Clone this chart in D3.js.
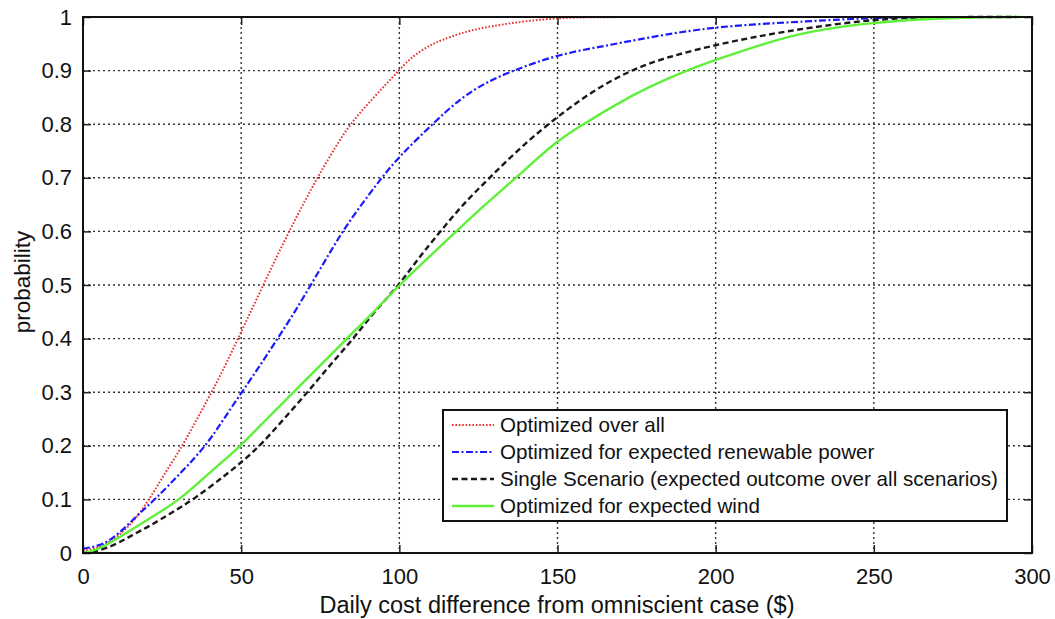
<!DOCTYPE html>
<html><head><meta charset="utf-8">
<script src="https://cdn.jsdelivr.net/npm/d3@7"></script>
<style>body{margin:0;background:#fff;} svg{display:block;} text{font-family:"Liberation Sans",Arial,sans-serif;}</style>
</head><body>
<svg id="c" width="1055" height="619"></svg>
<script>
const xTicks = [0,50,100,150,200,250,300];
const yTicks = [0,0.1,0.2,0.3,0.4,0.5,0.6,0.7,0.8,0.9,1];
const seriesNames = ["Optimized over all","Optimized for expected renewable power","Single Scenario (expected outcome over all scenarios)","Optimized for expected wind"];

const redX = [0,4,8.5,15,21,26,31.5,36,40.7,45,49,53,57,61,65.2,69.5,74.1,79,84.3,91.9,99.8,103,106.5,110,113,119.4,126,139,150,160,200,250,295];
const redY = [0.005,0.008,0.02,0.05,0.1,0.15,0.2,0.25,0.3,0.35,0.4,0.45,0.5,0.55,0.6,0.65,0.7,0.75,0.8,0.85,0.9,0.92,0.936,0.948,0.956,0.97,0.98,0.992,0.998,1,1,1,1];

const blueX = [0,5,9,13.8,18,22.8,31,38.9,44.5,50.2,56,61.5,67,72,77,82,88,94.4,100,110.4,119.4,128,136,150,165,178,200,230,250,270,295];
const blueY = [0.008,0.013,0.025,0.05,0.075,0.1,0.15,0.2,0.25,0.3,0.35,0.4,0.45,0.5,0.55,0.6,0.65,0.7,0.74,0.8,0.849,0.88,0.9,0.93,0.946,0.961,0.983,0.992,0.999,1,1];

const blackX = [0,3,7,11.7,16,21,28,35,45,50,56,63.5,71,78,85.5,92,100,106,113,120,128.5,138,148,160,172.6,185,200,215,229.6,250,268,295];
const blackY = [0,0.002,0.008,0.02,0.035,0.05,0.075,0.1,0.145,0.169,0.2,0.25,0.3,0.35,0.4,0.45,0.5,0.55,0.6,0.65,0.7,0.755,0.805,0.858,0.9,0.926,0.948,0.966,0.98,0.996,1,1];

const greenX = [0,4,9,17,24,30.7,40,50,58,66.6,75,83.4,92,100,109,118,127,137,150,159.6,175,190.7,200,215,229.6,250,268,285,296];
const greenY = [0,0.005,0.02,0.05,0.075,0.1,0.15,0.2,0.25,0.3,0.35,0.4,0.45,0.5,0.55,0.6,0.65,0.7,0.771,0.805,0.86,0.9,0.92,0.95,0.974,0.99,0.997,1,1];

const series = [
  {name:seriesNames[0], xs:redX, ys:redY, color:"#e8312f", dash:"1.6,1.8", w:2},
  {name:seriesNames[1], xs:blueX, ys:blueY, color:"#1a1aff", dash:"7,2.5,2,2.5", w:2.2},
  {name:seriesNames[2], xs:blackX, ys:blackY, color:"#1a1a1a", dash:"6,3.5", w:2.4},
  {name:seriesNames[3], xs:greenX, ys:greenY, color:"#5ff03a", dash:null, w:2.4}
];

const L=83, R=1032, T=17, B=553;
const svg = d3.select("#c");
const x = d3.scaleLinear().domain([0,300]).range([L,R]);
const y = d3.scaleLinear().domain([0,1]).range([B,T]);

// grid
const g = svg.append("g");
g.selectAll(".gx").data(xTicks.slice(1,-1)).enter().append("line")
 .attr("x1",d=>x(d)).attr("x2",d=>x(d)).attr("y1",T).attr("y2",B)
 .attr("stroke","#333").attr("stroke-width",1.4).attr("stroke-dasharray","2,3");
g.selectAll(".gy").data(yTicks.slice(1,-1)).enter().append("line")
 .attr("y1",d=>y(d)).attr("y2",d=>y(d)).attr("x1",L).attr("x2",R)
 .attr("stroke","#333").attr("stroke-width",1.4).attr("stroke-dasharray","2,3");

// axes
const fs = 22;
const xa = svg.append("g").attr("transform",`translate(0,${B})`)
  .call(d3.axisBottom(x).tickValues(xTicks).tickFormat(d3.format("d")).tickSize(-8).tickPadding(15));
const ya = svg.append("g").attr("transform",`translate(${L},0)`)
  .call(d3.axisLeft(y).tickValues(yTicks).tickFormat(d=>d===0?"0":d===1?"1":d3.format(".1f")(d)).tickSize(-8).tickPadding(11));
const xa2 = svg.append("g").attr("transform",`translate(0,${T})`)
  .call(d3.axisTop(x).tickValues(xTicks).tickSize(-8).tickFormat(""));
const ya2 = svg.append("g").attr("transform",`translate(${R},0)`)
  .call(d3.axisRight(y).tickValues(yTicks).tickSize(-8).tickFormat(""));
[xa,ya,xa2,ya2].forEach(a=>{
  a.select(".domain").remove();
  a.selectAll(".tick line").attr("stroke","#222").attr("stroke-width",1.5);
  a.selectAll("text").attr("font-size",fs).attr("fill","#111").attr("font-family","'Liberation Sans',Arial,sans-serif");
});

// lines
const line = d3.line().x(d=>x(d[0])).y(d=>y(d[1])).curve(d3.curveBasis);
series.forEach(s=>{
  const pts = s.xs.map((v,i)=>[v,s.ys[i]]);
  svg.append("path").datum(pts).attr("d",line).attr("fill","none")
   .attr("stroke",s.color).attr("stroke-width",s.w)
   .attr("stroke-dasharray",s.dash).attr("stroke-linejoin","round");
});

// frame
svg.append("rect").attr("x",L).attr("y",T).attr("width",R-L).attr("height",B-T)
  .attr("fill","none").attr("stroke","#111").attr("stroke-width",2);

// labels
svg.append("text").attr("x",557).attr("y",613).attr("text-anchor","middle")
  .attr("font-size",23.5).attr("fill","#111").text("Daily cost difference from omniscient case ($)");
svg.append("text").attr("transform",`translate(30,282) rotate(-90)`).attr("text-anchor","middle")
  .attr("font-size",22.5).attr("fill","#111").text("probability");

// legend
const lg = svg.append("g");
lg.append("rect").attr("x",443).attr("y",410).attr("width",564).attr("height",111)
  .attr("fill","#fff").attr("stroke","#111").attr("stroke-width",2);
const rowY = [425,452,479,506];
series.forEach((s,i)=>{
  lg.append("line").attr("x1",452).attr("x2",494).attr("y1",rowY[i]).attr("y2",rowY[i])
    .attr("stroke",s.color).attr("stroke-width",s.w).attr("stroke-dasharray",s.dash);
  lg.append("text").attr("x",500).attr("y",rowY[i]).attr("dy","0.35em")
    .attr("font-size",20.6).attr("fill","#111").text(s.name);
});
</script>
</body></html>
